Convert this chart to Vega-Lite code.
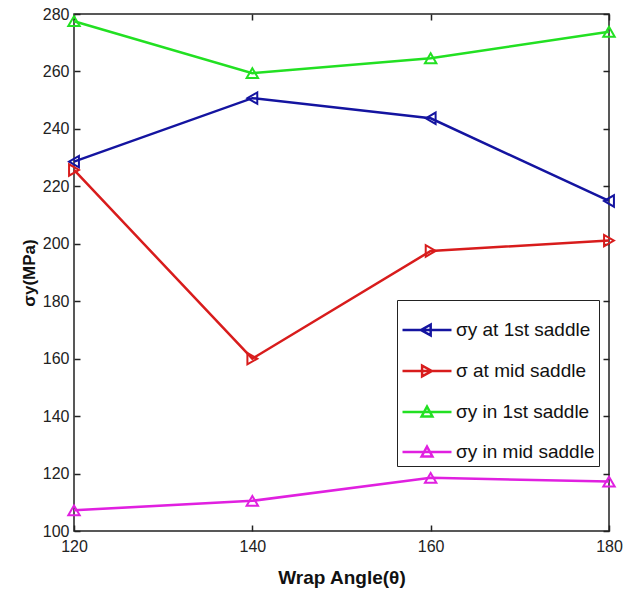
{
  "$schema": "https://vega.github.io/schema/vega-lite/v6.json",
  "width": 535,
  "height": 517,
  "autosize": {"type": "none"},
  "padding": {"left": 74, "top": 14, "right": 24, "bottom": 58},
  "background": "white",
  "config": {
    "view": {"stroke": "#222222", "strokeWidth": 1.5},
    "font": "Liberation Sans",
    "axis": {"grid": false, "domain": false, "tickColor": "#222222", "tickWidth": 1.5, "labelColor": "#222222", "labelFont": "Liberation Sans", "labelFontSize": 16, "labelFlush": false, "labelOverlap": false, "titleFont": "Liberation Sans", "titleFontWeight": "bold", "titleColor": "#111111"}
  },
  "datasets": {
    "d": [
      {"angle": 120, "series": "σy at 1st saddle", "stress": 228.6},
      {"angle": 140, "series": "σy at 1st saddle", "stress": 250.7},
      {"angle": 160, "series": "σy at 1st saddle", "stress": 243.7},
      {"angle": 180, "series": "σy at 1st saddle", "stress": 214.9},
      {"angle": 120, "series": "σ at mid saddle", "stress": 225.7},
      {"angle": 140, "series": "σ at mid saddle", "stress": 160.0},
      {"angle": 160, "series": "σ at mid saddle", "stress": 197.5},
      {"angle": 180, "series": "σ at mid saddle", "stress": 201.1},
      {"angle": 120, "series": "σy in 1st saddle", "stress": 277.5},
      {"angle": 140, "series": "σy in 1st saddle", "stress": 259.4},
      {"angle": 160, "series": "σy in 1st saddle", "stress": 264.6},
      {"angle": 180, "series": "σy in 1st saddle", "stress": 273.8},
      {"angle": 120, "series": "σy in mid saddle", "stress": 107.2},
      {"angle": 140, "series": "σy in mid saddle", "stress": 110.5},
      {"angle": 160, "series": "σy in mid saddle", "stress": 118.5},
      {"angle": 180, "series": "σy in mid saddle", "stress": 117.2}
    ]
  },
  "data": {"name": "d"},
  "resolve": {"axis": {"x": "independent", "y": "independent"}},
  "layer": [
    {
      "mark": {"type": "line", "strokeWidth": 2.5},
      "encoding": {
        "x": {"field": "angle", "type": "quantitative", "scale": {"domain": [120, 180], "nice": false, "zero": false},
          "axis": {"orient": "top", "labels": false, "title": null, "values": [120, 140, 160, 180], "tickSize": -6}},
        "y": {"field": "stress", "type": "quantitative", "scale": {"domain": [100, 280], "nice": false, "zero": false},
          "axis": {"orient": "right", "labels": false, "title": null, "values": [100, 120, 140, 160, 180, 200, 220, 240, 260, 280], "tickSize": -6}},
        "color": {
          "field": "series", "type": "nominal",
          "scale": {"domain": ["σy at 1st saddle", "σ at mid saddle", "σy in 1st saddle", "σy in mid saddle"], "range": ["#1414a0", "#d81c1c", "#22e022", "#e020e0"]},
          "legend": {
            "title": null, "orient": "none", "legendX": 323, "legendY": 286,
            "fillColor": "white", "strokeColor": "#222222", "padding": 4,
            "labelFont": "Liberation Sans", "labelFontSize": 19, "labelColor": "#111111", "labelOffset": 3,
            "symbolSize": 2400, "symbolStrokeWidth": 2.5, "symbolFillColor": "transparent", "rowPadding": 4,
            "encode": {"symbols": {"update": {"shape": {"signal": "datum.value === 'σy at 1st saddle' ? 'M-1,0L1,0M-0.25,0L0.15,-0.22L0.15,0.22Z' : datum.value === 'σ at mid saddle' ? 'M-1,0L1,0M0.2,0L-0.2,-0.22L-0.2,0.22Z' : 'M-1,0L1,0M0,-0.22L-0.22,0.18L0.22,0.18Z'"}, "fill": {"value": "transparent"}}}}
          }
        },
        "detail": {"field": "series"}
      }
    },
    {
      "transform": [{"filter": "datum.series === 'σy at 1st saddle'"}],
      "mark": {"type": "point", "shape": "triangle-left", "filled": false, "size": 130, "strokeWidth": 2, "opacity": 1},
      "encoding": {
        "x": {"field": "angle", "type": "quantitative", "scale": {"domain": [120, 180], "nice": false, "zero": false},
          "axis": {"orient": "bottom", "title": "Wrap Angle(θ)", "titleFontSize": 19, "titlePadding": 14, "values": [120, 140, 160, 180], "tickSize": -6, "labelPadding": 13}},
        "y": {"field": "stress", "type": "quantitative", "scale": {"domain": [100, 280], "nice": false, "zero": false},
          "axis": {"orient": "left", "title": "σy(MPa)", "titleFontSize": 17, "titlePadding": 4, "values": [100, 120, 140, 160, 180, 200, 220, 240, 260, 280], "tickSize": -6, "labelPadding": 11}},
        "color": {"field": "series", "type": "nominal", "legend": null}
      }
    },
    {
      "transform": [{"filter": "datum.series === 'σ at mid saddle'"}],
      "mark": {"type": "point", "shape": "triangle-right", "filled": false, "size": 130, "strokeWidth": 2, "opacity": 1},
      "encoding": {
        "x": {"field": "angle", "type": "quantitative", "axis": null},
        "y": {"field": "stress", "type": "quantitative", "axis": null},
        "color": {"field": "series", "type": "nominal", "legend": null}
      }
    },
    {
      "transform": [{"filter": "datum.series === 'σy in 1st saddle' || datum.series === 'σy in mid saddle'"}],
      "mark": {"type": "point", "shape": "triangle-up", "filled": false, "size": 130, "strokeWidth": 2, "opacity": 1},
      "encoding": {
        "x": {"field": "angle", "type": "quantitative", "axis": null},
        "y": {"field": "stress", "type": "quantitative", "axis": null},
        "color": {"field": "series", "type": "nominal", "legend": null}
      }
    }
  ]
}
